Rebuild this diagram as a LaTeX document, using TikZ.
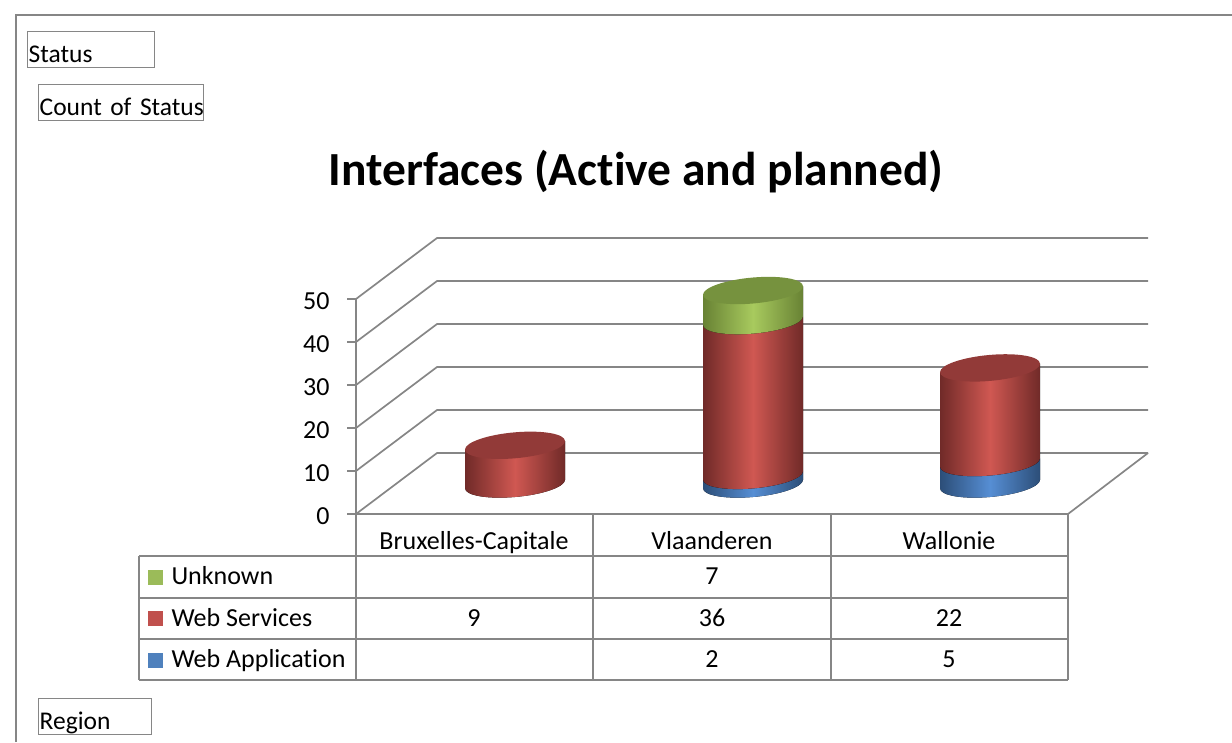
\documentclass[tikz,border=0pt]{standalone}
\usepackage{fontspec}
\setmainfont[Ligatures=NoCommon]{Carlito}
\usepackage{xcolor}
\usetikzlibrary{positioning}

\definecolor{gridgray}{RGB}{134,134,134}
\definecolor{redD}{RGB}{112,42,40}
\definecolor{redL}{RGB}{208,88,82}
\definecolor{redC}{RGB}{146,58,56}
\definecolor{greenD}{RGB}{104,130,52}
\definecolor{greenL}{RGB}{168,202,94}
\definecolor{greenC}{RGB}{118,146,62}
\definecolor{blueD}{RGB}{44,78,120}
\definecolor{blueL}{RGB}{86,142,212}
\definecolor{blueC}{RGB}{60,104,158}
\definecolor{redK}{RGB}{192,80,77}
\definecolor{greenK}{RGB}{155,187,89}
\definecolor{blueK}{RGB}{79,129,189}

\tikzset{
  grid line/.style={draw=gridgray, line width=1.7pt},
  field box/.style={draw=gridgray, line width=1.4pt, anchor=north west,
    inner sep=1pt, text width=#1, text height=30pt, text depth=4pt, align=left,
    font=\fontsize{25.5}{30}\selectfont},
  seg/.style={left color=#1D, right color=#1D, middle color=#1L},
  cell/.style={anchor=base},
}

\begin{document}
\begin{tikzpicture}[x=1pt,y=-1pt,font=\fontsize{26}{30}\selectfont]
\useasboundingbox (0,0) rectangle (1232,742);

% frame of the pivot chart
\draw[draw=gridgray, line width=1.6pt] (16,742) -- (16,15) -- (1232,15);

\node[field box=125pt] (status) at (27,31) {\mbox{Status}};
\node[field box=163pt] (count) at (38,84) {\mbox{Count of Status}};
\node[field box=111pt] (region) at (38,698) {\mbox{Region}};

\node[font=\fontsize{47.5}{52}\selectfont\bfseries] (title) at (636,172) {Interfaces (Active and planned)};

% walls and floor
\foreach \v in {0,...,5} {
  \pgfmathtruncatemacro\lab{10*\v}
  \draw[grid line] (347,514-43*\v) -- (356,514-43*\v) -- (437,453-43*\v) -- (1148,453-43*\v);
  \node[anchor=base east] (y\v) at (333,524-43*\v) {\lab};
}
\draw[grid line] (356,299) -- (356,680);
\draw[grid line] (356,514) -- (1068,514) -- (1148,453);

% table
\foreach \yy in {556,598,639,680}
  \draw[grid line] (139,\yy) -- (1068,\yy);
\draw[grid line] (139,556) -- (139,680);
\foreach \xx in {593,831,1068}
  \draw[grid line] (\xx,514) -- (\xx,680);

\node[cell] (bx) at (474,549) {Bruxelles-Capitale};
\node[cell] (vl) at (712,549) {Vlaanderen};
\node[cell] (wa) at (949,549) {Wallonie};

\fill[greenK] (148,570) rectangle (163,585);
\fill[redK] (148,611) rectangle (163,626);
\fill[blueK] (148,653) rectangle (163,668);
\node[anchor=base west] (unk) at (168,584) {Unknown};
\node[anchor=base west] (ws) at (168,626) {Web Services};
\node[anchor=base west] (wapp) at (168,667) {Web Application};

\node[cell] (vunk) at (712,584) {7};
\node[cell] (bws) at (474,626) {9};
\node[cell] (vws) at (712,626) {36};
\node[cell] (wws) at (949,626) {22};
\node[cell] (vapp) at (712,667) {2};
\node[cell] (wapp2) at (949,667) {5};

% cylinders
\foreach \cx/\a/\b/\col in {515/0/9/red, 753/0/2/blue, 753/2/38/red, 753/38/45/green,
                            990/0/5/blue, 990/5/27/red} {
  \begin{scope}[shift={(\cx,484)}, y=1pt, yslant=0.085]
    \fill[seg=\col] (-50,4.3*\a) -- (-50,4.3*\b) -- (50,4.3*\b) -- (50,4.3*\a)
      arc[start angle=0, end angle=-180, x radius=50, y radius=13] -- cycle;
  \end{scope}
}
\foreach \cx/\b/\col in {515/9/red, 753/45/green, 990/27/red} {
  \begin{scope}[shift={(\cx,484)}, y=1pt, yslant=0.085]
    \fill[\col C] (0,4.3*\b) ellipse [x radius=50, y radius=13];
  \end{scope}
}
\end{tikzpicture}
\end{document}
